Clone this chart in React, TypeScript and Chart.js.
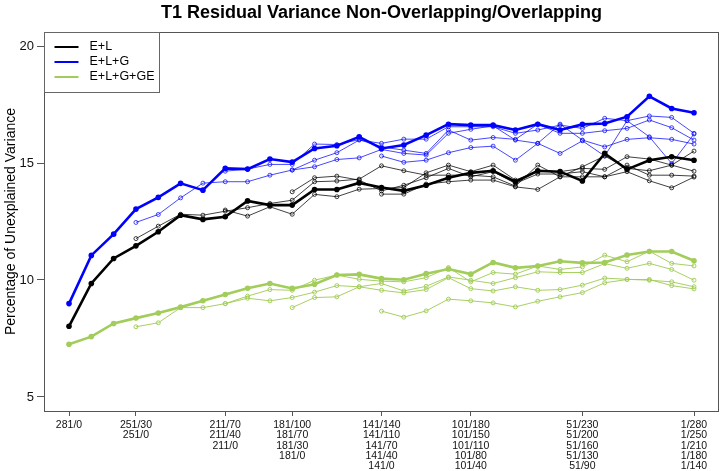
import React, { useEffect, useRef } from 'react';
import { Chart, registerables } from 'chart.js';

Chart.register(...registerables);

const FONT = '"Liberation Sans", Arial, Helvetica, sans-serif';

const chartTitle = 'T1 Residual Variance Non-Overlapping/Overlapping';
const yAxisTitle = 'Percentage of Unexplained Variance';
const seriesNames = ['E+L', 'E+L+G', 'E+L+G+GE'];
const seriesColors = ['#000000', '#0000FF', '#A2CD5A'];
const thinColors = ['rgba(0,0,0,0.75)', 'rgba(0,0,255,0.72)', 'rgba(162,205,90,0.95)'];

const yTicks = [5, 10, 15, 20];
const xTickPositions = [0, 3, 7, 10, 14, 18, 23, 28];
const xTickLabels = [
  ['281/0'],
  ['251/30', '251/0'],
  ['211/70', '211/40', '211/0'],
  ['181/100', '181/70', '181/30', '181/0'],
  ['141/140', '141/110', '141/70', '141/40', '141/0'],
  ['101/180', '101/150', '101/110', '101/80', '101/40'],
  ['51/230', '51/200', '51/160', '51/130', '51/90'],
  ['1/280', '1/250', '1/210', '1/180', '1/140'],
];

// first x position of each of the five lines in a series
const lineStarts = [0, 3, 7, 10, 14];

// E+L
const black1 = [8.02, 9.85, 10.92, 11.46, 12.06, 12.77, 12.59, 12.70, 13.38, 13.20, 13.20, 13.87, 13.87, 14.15, 13.95, 13.81, 14.05, 14.37, 14.58, 14.67, 14.20, 14.67, 14.63, 14.23, 15.41, 14.73, 15.12, 15.27, 15.12];
const black2 = [11.77, 12.30, 12.81, 12.77, 12.94, 13.09, 13.27, 13.41, 14.20, 14.23, 14.31, 14.88, 14.67, 14.48, 14.48, 14.48, 14.41, 14.01, 14.91, 14.41, 14.84, 15.30, 14.77, 14.67, 14.91, 15.51];
const black3 = [12.99, 12.73, 13.13, 12.81, 13.66, 13.56, 13.88, 13.91, 13.95, 14.58, 14.91, 14.63, 14.91, 14.27, 14.63, 14.63, 14.77, 14.73, 15.27, 15.17, 14.91, 14.65];
const black4 = [13.77, 14.37, 14.44, 14.27, 13.81, 14.05, 14.37, 14.77, 14.41, 14.63, 14.13, 14.53, 14.53, 14.63, 14.41, 14.91, 14.48, 14.48, 14.44];
const black5 = [13.67, 13.67, 14.10, 14.20, 14.27, 14.27, 13.98, 13.87, 14.41, 14.41, 14.41, 14.63, 14.24, 13.94, 14.40];

// E+L+G
const blue1 = [8.99, 11.05, 11.96, 13.03, 13.53, 14.13, 13.84, 14.77, 14.74, 15.17, 15.04, 15.62, 15.74, 16.12, 15.62, 15.77, 16.19, 16.66, 16.62, 16.62, 16.41, 16.66, 16.41, 16.65, 16.69, 16.98, 17.85, 17.33, 17.15];
const blue2 = [12.46, 12.80, 13.51, 14.14, 14.20, 14.20, 14.48, 14.70, 15.12, 15.44, 15.98, 15.84, 16.02, 16.02, 16.55, 16.55, 16.55, 16.27, 16.41, 16.62, 16.48, 16.91, 16.81, 17.01, 16.95, 16.27];
const blue3 = [14.65, 14.74, 14.94, 14.94, 15.81, 15.79, 16.00, 15.69, 15.55, 15.41, 16.41, 15.98, 16.09, 16.01, 16.66, 16.27, 16.27, 16.38, 16.48, 16.84, 16.51, 15.98];
const blue4 = [14.70, 14.84, 15.15, 15.22, 15.58, 15.41, 15.34, 16.27, 16.44, 16.59, 15.98, 15.84, 16.66, 15.98, 15.69, 16.01, 16.08, 16.01, 15.81];
const blue5 = [15.30, 15.03, 15.12, 15.44, 15.66, 15.72, 15.12, 15.84, 15.41, 15.95, 15.30, 16.81, 16.12, 14.98, 16.24];

// E+L+G+GE
const green1 = [7.25, 7.58, 8.14, 8.37, 8.59, 8.84, 9.11, 9.38, 9.65, 9.85, 9.64, 9.82, 10.21, 10.24, 10.06, 10.01, 10.27, 10.47, 10.25, 10.75, 10.52, 10.60, 10.80, 10.73, 10.75, 11.07, 11.22, 11.22, 10.82];
const green2 = [8.00, 8.17, 8.82, 8.82, 8.99, 9.31, 9.59, 9.56, 9.99, 10.21, 10.03, 9.95, 9.92, 10.10, 10.53, 9.92, 10.32, 10.25, 10.60, 10.45, 10.56, 11.06, 10.78, 11.23, 10.71, 10.60];
const green3 = [8.99, 9.22, 9.11, 9.25, 9.48, 9.76, 9.71, 9.85, 9.53, 9.73, 10.13, 9.99, 9.85, 10.10, 10.35, 10.32, 10.32, 10.70, 10.50, 10.71, 10.45, 9.99];
const green4 = [8.82, 9.25, 9.28, 9.71, 9.56, 9.45, 9.59, 10.10, 9.63, 9.53, 9.71, 9.56, 9.59, 9.78, 10.08, 10.03, 9.99, 9.92, 9.71];
const green5 = [8.67, 8.41, 8.68, 9.18, 9.11, 9.02, 8.85, 9.09, 9.28, 9.46, 9.88, 10.02, 10.02, 9.76, 9.62];

const seriesLines = [
  [black1, black2, black3, black4, black5],
  [blue1, blue2, blue3, blue4, blue5],
  [green1, green2, green3, green4, green5],
];

function buildDatasets() {
  const ds: any[] = [];
  seriesLines.forEach((lines, s) => {
    // thin lines first, thick line last
    for (let k = lines.length - 1; k >= 0; k--) {
      const vals = lines[k];
      const start = lineStarts[k];
      const thick = k === 0;
      ds.push({
        label: seriesNames[s] + ' ' + (k + 1),
        data: vals.map((v, i) => ({ x: start + i, y: v })),
        borderColor: thick ? seriesColors[s] : thinColors[s],
        backgroundColor: thick ? seriesColors[s] : 'rgba(0,0,0,0)',
        borderWidth: thick ? 2.6 : 1,
        pointRadius: thick ? 2.8 : 2,
        pointBorderWidth: thick ? 0 : 1,
        pointBorderColor: thick ? seriesColors[s] : thinColors[s],
        pointBackgroundColor: thick ? seriesColors[s] : 'rgba(0,0,0,0)',
        tension: 0,
        fill: false,
      });
    }
  });
  return ds;
}

const decorPlugin = {
  id: 'decor',
  afterDraw(chart: any) {
    const ctx = chart.ctx;
    const ca = chart.chartArea;
    ctx.save();
    // box
    ctx.strokeStyle = '#555';
    ctx.lineWidth = 1;
    ctx.strokeRect(Math.round(ca.left) + 0.5, Math.round(ca.top) + 0.5, Math.round(ca.right - ca.left) - 1, Math.round(ca.bottom - ca.top));
    // title
    ctx.fillStyle = '#000';
    ctx.font = 'bold 18px ' + FONT;
    ctx.textAlign = 'center';
    ctx.textBaseline = 'middle';
    ctx.fillText(chartTitle, (ca.left + ca.right) / 2, 13);
    // y axis title
    ctx.save();
    ctx.translate(11, (ca.top + ca.bottom) / 2);
    ctx.rotate(-Math.PI / 2);
    ctx.font = '14px ' + FONT;
    ctx.fillText(yAxisTitle, 0, 0);
    ctx.restore();
    // legend
    const lx = Math.round(ca.left) + 0.5;
    const ly = Math.round(ca.top) + 0.5;
    ctx.fillStyle = '#fff';
    ctx.fillRect(lx, ly, 115, 60);
    ctx.strokeStyle = '#666';
    ctx.strokeRect(lx, ly, 115, 60);
    ctx.font = '12.5px ' + FONT;
    ctx.textAlign = 'left';
    ctx.textBaseline = 'middle';
    seriesNames.forEach((n, i) => {
      const yy = ly + 14.5 + i * 15;
      ctx.strokeStyle = seriesColors[i];
      ctx.lineWidth = 2;
      ctx.beginPath();
      ctx.moveTo(lx + 10, yy);
      ctx.lineTo(lx + 34, yy);
      ctx.stroke();
      ctx.fillStyle = '#000';
      ctx.fillText(n, lx + 45, yy);
    });
    ctx.restore();
  },
};

export default function App() {
  const ref = useRef<HTMLCanvasElement | null>(null);
  useEffect(() => {
    document.body.style.margin = '0';
    const canvas = ref.current;
    if (!canvas) return;
    const chart = new Chart(canvas, {
      type: 'line',
      data: { datasets: buildDatasets() },
      options: {
        responsive: false,
        animation: false,
        devicePixelRatio: 1,
        layout: { padding: { top: 32, right: 2, left: 0, bottom: 0 } },
        plugins: { legend: { display: false }, title: { display: false }, tooltip: { enabled: false } },
        scales: {
          x: {
            type: 'linear',
            min: -1.12,
            max: 29.12,
            afterBuildTicks: (s: any) => {
              s.ticks = xTickPositions.map((v) => ({ value: v }));
            },
            afterFit: (s: any) => {
              s.height = 60;
            },
            ticks: {
              autoSkip: false,
              maxRotation: 0,
              minRotation: 0,
              padding: 4,
              color: '#111',
              font: { family: FONT, size: 10.5, lineHeight: 0.98 },
              callback: (_v: any, i: number) => xTickLabels[i],
            },
            grid: { drawOnChartArea: false, drawTicks: true, tickLength: 5, color: '#555' },
            border: { display: false },
          },
          y: {
            type: 'linear',
            min: 4.4,
            max: 20.6,
            afterBuildTicks: (s: any) => {
              s.ticks = yTicks.map((v) => ({ value: v }));
            },
            afterFit: (s: any) => {
              s.width = 44;
            },
            ticks: { padding: 3, color: '#111', font: { family: FONT, size: 13 } },
            grid: { drawOnChartArea: false, drawTicks: true, tickLength: 7, color: '#555' },
            border: { display: false },
          },
        },
      },
      plugins: [decorPlugin],
    });
    return () => chart.destroy();
  }, []);
  return (
    <div style={{ position: 'fixed', left: 0, top: 0, width: 724, height: 471, background: '#fff' }}>
      <canvas ref={ref} width={724} height={471} />
    </div>
  );
}
